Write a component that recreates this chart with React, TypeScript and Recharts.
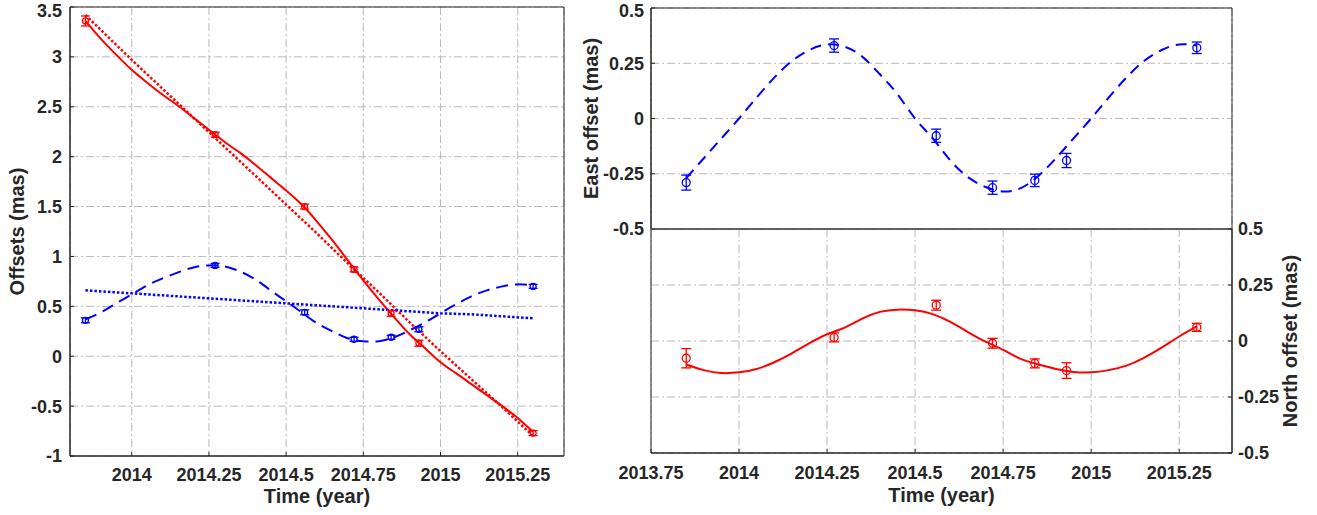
import { ComposedChart, Line, Scatter, ErrorBar, XAxis, YAxis, CartesianGrid, ReferenceArea } from 'recharts';

const INK = '#262626';
const GRID = '#b9b9b9';
const RED = '#ff0000';
const BLUE = '#0000ff';
const FONT = '"Liberation Sans", Arial, Helvetica, sans-serif';

// observation epochs (year)
const epochs = [2013.85, 2014.27, 2014.56, 2014.72, 2014.84, 2014.93, 2015.3];

// left panel: measured offsets (mas) with 1-sigma errors
const offsetRed = [3.36, 2.22, 1.5, 0.87, 0.43, 0.13, -0.77];
const offsetRedErr = [0.05, 0.025, 0.025, 0.025, 0.03, 0.03, 0.025];
const offsetBlue = [0.36, 0.91, 0.44, 0.17, 0.19, 0.27, 0.7];
const offsetBlueErr = [0.025, 0.02, 0.025, 0.02, 0.02, 0.025, 0.02];

// fitted models, sampled every 0.05 yr
const fitT = [
  2013.85, 2013.9, 2013.95, 2014, 2014.05, 2014.1, 2014.15, 2014.2, 2014.25, 2014.3,
  2014.35, 2014.4, 2014.45, 2014.5, 2014.55, 2014.6, 2014.65, 2014.7, 2014.75, 2014.8,
  2014.85, 2014.9, 2014.95, 2015, 2015.05, 2015.1, 2015.15, 2015.2, 2015.25, 2015.3,
];
const redFit = [
  3.36, 3.18, 3.02, 2.87, 2.74, 2.62, 2.51, 2.39, 2.27, 2.15,
  2.04, 1.92, 1.79, 1.66, 1.52, 1.35, 1.16, 0.96, 0.76, 0.57,
  0.39, 0.22, 0.08, -0.06, -0.17, -0.28, -0.39, -0.5, -0.62, -0.76,
];
const blueFit = [
  0.37, 0.44, 0.53, 0.62, 0.71, 0.78, 0.84, 0.89, 0.91, 0.9,
  0.85, 0.77, 0.66, 0.55, 0.44, 0.33, 0.25, 0.18, 0.15, 0.15,
  0.19, 0.26, 0.34, 0.43, 0.52, 0.6, 0.66, 0.7, 0.72, 0.71,
];
const eastFit = [
  -0.27, -0.18, -0.09, 0, 0.095, 0.185, 0.26, 0.31, 0.335, 0.325,
  0.28, 0.2, 0.11, 0, -0.09, -0.19, -0.265, -0.31, -0.33, -0.315,
  -0.26, -0.18, -0.09, 0, 0.095, 0.185, 0.26, 0.31, 0.335, 0.33,
];
const northFit = [
  -0.105, -0.13, -0.143, -0.14, -0.125, -0.095, -0.055, -0.01, 0.03, 0.06,
  0.1, 0.13, 0.14, 0.137, 0.12, 0.085, 0.04, -0.003, -0.04, -0.08,
  -0.105, -0.125, -0.138, -0.14, -0.13, -0.11, -0.075, -0.03, 0.02, 0.065,
];

// proper-motion-only trends (dotted)
const trendT = [2013.85, 2014, 2014.1, 2014.2, 2014.3, 2014.4, 2014.5, 2014.6, 2014.7, 2014.8, 2014.9, 2015, 2015.1, 2015.2, 2015.3];
const redTrend = [3.42, 2.97, 2.68, 2.39, 2.1, 1.81, 1.52, 1.23, 0.93, 0.64, 0.34, 0.05, -0.23, -0.51, -0.8];
const blueTrend = [0.66, 0.63, 0.61, 0.59, 0.57, 0.55, 0.53, 0.51, 0.49, 0.47, 0.45, 0.43, 0.42, 0.4, 0.38];

// right panels: parallax signature (mas)
const east = [-0.29, 0.33, -0.078, -0.313, -0.28, -0.19, 0.32];
const eastErr = [0.034, 0.03, 0.03, 0.03, 0.028, 0.032, 0.026];
const north = [-0.077, 0.016, 0.16, -0.01, -0.1, -0.132, 0.061];
const northErr = [0.043, 0.02, 0.022, 0.022, 0.02, 0.035, 0.018];

const leftXTicks = [2014, 2014.25, 2014.5, 2014.75, 2015, 2015.25];
const leftYTicks = [-1, -0.5, 0, 0.5, 1, 1.5, 2, 2.5, 3, 3.5];
const rightXTicks = [2013.75, 2014, 2014.25, 2014.5, 2014.75, 2015, 2015.25];
const rightYTicks = [-0.5, -0.25, 0, 0.25, 0.5];
const leftX: [number, number] = [2013.8, 2015.4];
const leftY: [number, number] = [-1, 3.5];
const rightX: [number, number] = [2013.75, 2015.4];
const rightY: [number, number] = [-0.5, 0.5];

const series = (ts: number[], ys: number[]) => ts.map((t, i) => ({ t, y: ys[i] }));
const points = (ys: number[], es: number[]) => epochs.map((t, i) => ({ t, y: ys[i], e: es[i] }));

const tickFont = { fontSize: 18, fontWeight: 700, fill: INK, fontFamily: FONT };
const titleFont = { fontSize: 20, fontWeight: 700, fill: INK, fontFamily: FONT, textAnchor: 'middle' as const };
const line = { stroke: INK, strokeWidth: 1 };

const ring = (color: string, r: number) => (p: any) => (
  <circle cx={p.cx} cy={p.cy} r={r} fill="none" stroke={color} strokeWidth={1.3} />
);

function Points({ data, color, r, cap }: { data: any[]; color: string; r: number; cap: number }) {
  return (
    <Scatter data={data} dataKey="y" shape={ring(color, r)} isAnimationActive={false}>
      <ErrorBar dataKey="e" direction="y" width={cap} stroke={color} strokeWidth={1.3} />
    </Scatter>
  );
}

// box round the plot area, like matlab's "box on"
const frame = (x: [number, number], y: [number, number]) => (
  <ReferenceArea x1={x[0]} x2={x[1]} y1={y[0]} y2={y[1]} fill="none" fillOpacity={0}
    stroke={INK} strokeWidth={1} ifOverflow="visible" />
);

function LeftChart() {
  return (
    <ComposedChart width={600} height={515} margin={{ top: 7, right: 36, bottom: 0, left: 0 }}>
      <CartesianGrid stroke={GRID} strokeDasharray="8 3 2 3" />
      <XAxis dataKey="t" type="number" domain={leftX} ticks={leftXTicks} allowDataOverflow
        height={59} tickSize={-4} tickMargin={16} tick={tickFont} axisLine={line} tickLine={line}
        label={{ value: 'Time (year)', position: 'insideBottom', offset: 12, style: titleFont }} />
      <YAxis type="number" domain={leftY} ticks={leftYTicks} allowDataOverflow width={70}
        tickSize={-4} tickMargin={12} tick={tickFont} axisLine={line} tickLine={line}
        label={{ value: 'Offsets (mas)', angle: -90, position: 'insideLeft', offset: 17, style: titleFont }} />
      {frame(leftX, leftY)}
      <Line data={series(fitT, redFit)} dataKey="y" type="natural" stroke={RED} strokeWidth={2} dot={false} isAnimationActive={false} />
      <Line data={series(trendT, redTrend)} dataKey="y" type="linear" stroke={RED} strokeWidth={2.5} strokeDasharray="2.5 2" dot={false} isAnimationActive={false} />
      <Line data={series(fitT, blueFit)} dataKey="y" type="natural" stroke={BLUE} strokeWidth={2} strokeDasharray="12 7" dot={false} isAnimationActive={false} />
      <Line data={series(trendT, blueTrend)} dataKey="y" type="linear" stroke={BLUE} strokeWidth={2.5} strokeDasharray="2.5 2" dot={false} isAnimationActive={false} />
      {Points({ data: points(offsetRed, offsetRedErr), color: RED, r: 3, cap: 4.5 })}
      {Points({ data: points(offsetBlue, offsetBlueErr), color: BLUE, r: 3, cap: 4.5 })}
    </ComposedChart>
  );
}

function EastChart() {
  return (
    <ComposedChart width={757} height={240} margin={{ top: 8, right: 85, bottom: 11, left: 0 }}>
      <CartesianGrid stroke={GRID} strokeDasharray="8 3 2 3" />
      <XAxis dataKey="t" type="number" domain={rightX} ticks={rightXTicks} allowDataOverflow
        height={0} tickSize={-4} tick={false} axisLine={line} tickLine={line} />
      <YAxis type="number" domain={rightY} ticks={rightYTicks} allowDataOverflow width={91}
        tickSize={-4} tickMargin={11} tick={tickFont} axisLine={line} tickLine={line}
        label={{ value: 'East offset (mas)', angle: -90, position: 'insideLeft', offset: 31, style: titleFont }} />
      {frame(rightX, rightY)}
      <Line data={series(fitT, eastFit)} dataKey="y" type="natural" stroke={BLUE} strokeWidth={2} strokeDasharray="11 7" dot={false} isAnimationActive={false} />
      {Points({ data: points(east, eastErr), color: BLUE, r: 4, cap: 5 })}
    </ComposedChart>
  );
}

function NorthChart() {
  return (
    <ComposedChart width={757} height={297} margin={{ top: 11, right: 0, bottom: 0, left: 91 }}>
      <CartesianGrid stroke={GRID} strokeDasharray="8 3 2 3" />
      <XAxis dataKey="t" type="number" domain={rightX} ticks={rightXTicks} allowDataOverflow
        height={62} tickSize={-4} tickMargin={17} tick={tickFont} axisLine={line} tickLine={line}
        label={{ value: 'Time (year)', position: 'insideBottom', offset: 13, style: titleFont }} />
      <YAxis orientation="right" type="number" domain={rightY} ticks={rightYTicks} allowDataOverflow
        width={85} tickSize={-4} tickMargin={10} tick={tickFont} axisLine={line} tickLine={line}
        label={{ value: 'North offset (mas)', angle: -90, position: 'insideLeft', offset: 58, style: titleFont }} />
      {frame(rightX, rightY)}
      <Line data={series(fitT, northFit)} dataKey="y" type="natural" stroke={RED} strokeWidth={2} dot={false} isAnimationActive={false} />
      {Points({ data: points(north, northErr), color: RED, r: 4, cap: 5 })}
    </ComposedChart>
  );
}

export default function App() {
  return (
    <div style={{ position: 'absolute', left: 0, top: 0, width: 1317, height: 515, background: '#fff', fontFamily: FONT }}>
      <div style={{ position: 'absolute', left: 0, top: 0 }}>
        <LeftChart />
      </div>
      <div style={{ position: 'absolute', left: 560, top: 0 }}>
        <EastChart />
      </div>
      <div style={{ position: 'absolute', left: 560, top: 218 }}>
        <NorthChart />
      </div>
    </div>
  );
}
